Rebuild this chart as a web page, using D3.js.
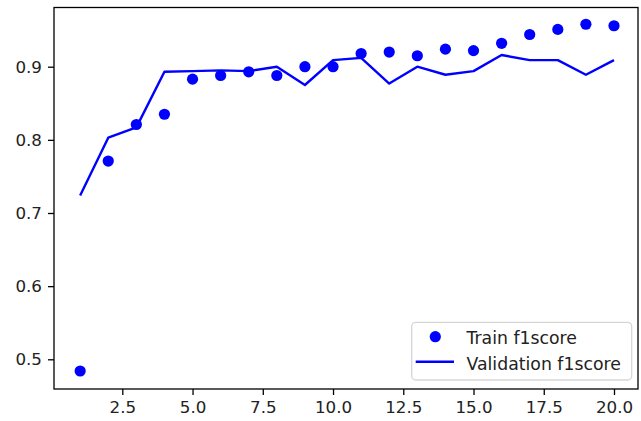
<!DOCTYPE html>
<html>
<head>
<meta charset="utf-8">
<script src="https://cdn.jsdelivr.net/npm/d3@7"></script>
<style>
  html, body { margin: 0; padding: 0; background: #fff; }
  svg { display: block; font-family: "DejaVu Sans", sans-serif; }
</style>
</head>
<body>
<svg id="chart" width="641" height="421"></svg>
<script>
const epochs = d3.range(1, 21);
const trainF1 = [0.484, 0.771, 0.821, 0.835, 0.883, 0.888, 0.893, 0.888, 0.900, 0.900,
                 0.918, 0.920, 0.915, 0.924, 0.922, 0.932, 0.944, 0.951, 0.958, 0.956];
const valF1 = [0.724, 0.803, 0.817, 0.893, 0.894, 0.895, 0.894, 0.900, 0.875, 0.909,
               0.912, 0.877, 0.900, 0.889, 0.894, 0.916, 0.909, 0.909, 0.889, 0.909];
const xTicks = [2.5, 5.0, 7.5, 10.0, 12.5, 15.0, 17.5, 20.0];
const yTicks = [0.5, 0.6, 0.7, 0.8, 0.9];
const legendItems = ["Train f1score", "Validation f1score"];

const svg = d3.select("#chart");
const box = { left: 54, right: 638, top: 7.5, bottom: 389 };

const x = d3.scaleLinear().domain([2.5, 20]).range([122.3, 614]);
const y = d3.scaleLinear().domain([0.5, 0.9]).range([359.3, 66.7]);

const blue = "#0000ff";

// axes
svg.append("g")
  .attr("transform", `translate(0,${box.bottom})`)
  .call(d3.axisBottom(x).tickValues(xTicks).tickFormat(d3.format(".1f")).tickSize(6).tickPadding(6))
  .call(g => g.select(".domain").remove());

svg.append("g")
  .attr("transform", `translate(${box.left},0)`)
  .call(d3.axisLeft(y).tickValues(yTicks).tickFormat(d3.format(".1f")).tickSize(6).tickPadding(6))
  .call(g => g.select(".domain").remove());

svg.selectAll(".tick line").attr("stroke", "#000").attr("stroke-width", 1.3);
svg.selectAll(".tick text")
  .attr("fill", "#222")
  .style("font-family", "DejaVu Sans, sans-serif")
  .style("font-size", "16.7px");

// validation line
svg.append("path")
  .datum(epochs)
  .attr("fill", "none")
  .attr("stroke", blue)
  .attr("stroke-width", 2.4)
  .attr("stroke-linejoin", "round")
  .attr("d", d3.line().x(d => x(d)).y((d, i) => y(valF1[i])));

// train dots
svg.append("g").selectAll("circle")
  .data(epochs)
  .enter()
  .append("circle")
  .attr("cx", d => x(d))
  .attr("cy", (d, i) => y(trainF1[i]))
  .attr("r", 5.6)
  .attr("fill", blue);

// frame
svg.append("rect")
  .attr("x", box.left)
  .attr("y", box.top)
  .attr("width", box.right - box.left)
  .attr("height", box.bottom - box.top)
  .attr("fill", "none")
  .attr("stroke", "#000")
  .attr("stroke-width", 1.3);

// legend
const lg = svg.append("g");
lg.append("rect")
  .attr("x", 411.7).attr("y", 322.3)
  .attr("width", 220).attr("height", 57.7)
  .attr("rx", 4)
  .attr("fill", "rgba(255,255,255,0.8)")
  .attr("stroke", "#d6d6d6")
  .attr("stroke-width", 1.3);

lg.append("circle").attr("cx", 435.3).attr("cy", 336.7).attr("r", 5.6).attr("fill", blue);
lg.append("line")
  .attr("x1", 415.7).attr("x2", 454)
  .attr("y1", 361.7).attr("y2", 361.7)
  .attr("stroke", blue).attr("stroke-width", 2.4);

lg.selectAll("text")
  .data(legendItems)
  .enter()
  .append("text")
  .attr("x", 466.5)
  .attr("y", (d, i) => 343.5 + i * 26.5)
  .attr("fill", "#222")
  .style("font-size", "17.3px")
  .text(d => d);
</script>
</body>
</html>
